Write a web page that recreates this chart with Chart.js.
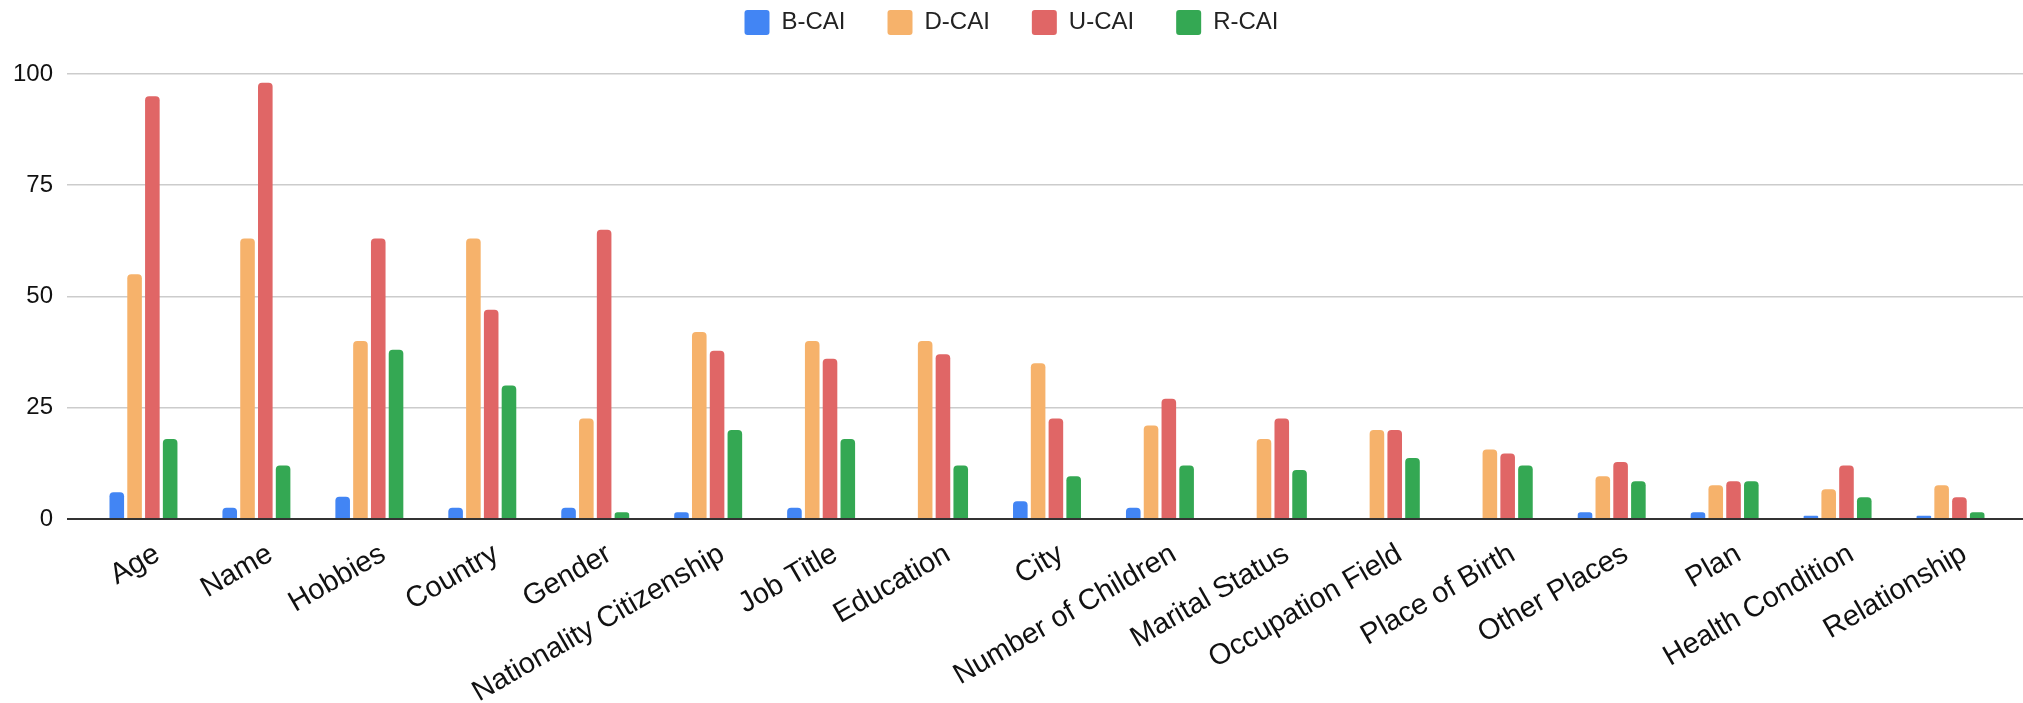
<!DOCTYPE html>
<html>
<head>
<meta charset="utf-8">
<script src="https://cdn.jsdelivr.net/npm/chart.js@4"></script>
<style>
  html, body { margin: 0; padding: 0; background: #fff; }
  #wrap { width: 2023px; height: 703px; }
</style>
</head>
<body>
<div id="wrap"><canvas id="myChart"></canvas></div>
<script>
// kategorier och värden
const categories = ["Age", "Name", "Hobbies", "Country", "Gender", "Nationality Citizenship", "Job Title",
  "Education", "City", "Number of Children", "Marital Status", "Occupation Field", "Place of Birth",
  "Other Places", "Plan", "Health Condition", "Relationship"];
const seriesNames = ["B-CAI", "D-CAI", "U-CAI", "R-CAI"];
const bCai = [6, 2.5, 5, 2.5, 2.5, 1.5, 2.5, 0, 4, 2.5, 0, 0, 0, 1.5, 1.5, 0.75, 0.75];
const dCai = [55, 63, 40, 63, 22.6, 42, 40, 40, 35, 21, 18, 20, 15.6, 9.6, 7.6, 6.7, 7.6];
const uCai = [95, 98, 63, 47, 65, 37.8, 36, 37, 22.6, 27, 22.6, 20, 14.7, 12.8, 8.5, 12, 4.9];
const rCai = [18, 12, 38, 30, 1.5, 20, 18, 12, 9.6, 12, 11, 13.7, 12, 8.5, 8.5, 4.9, 1.5];
const yTicks = [0, 25, 50, 75, 100];

const barColors = ["#4285f4", "#f6b26b", "#e06666", "#34a853"];
const allSeries = [bCai, dCai, uCai, rCai];

// lite luft ovanför 100-linjen, som i originalet
const yTop = 106.5;

Chart.defaults.font.family = "'Liberation Sans', Arial, sans-serif";
Chart.defaults.color = "#222";

// rutnätsfärg, nollinjen är mörk
function gridColor(ctx) { return ctx.tick && ctx.tick.value === 0 ? "#333" : "#cccccc"; }
function gridWidth(ctx) { return ctx.tick && ctx.tick.value === 0 ? 2 : 1.5; }

new Chart("myChart", {
  type: "bar",
  data: {
    labels: categories,
    datasets: allSeries.map((vals, i) => ({
      label: seriesNames[i],
      data: vals,
      backgroundColor: barColors[i],
      borderRadius: 4,
      borderSkipped: "start",
      categoryPercentage: 0.63,
      barPercentage: 0.82
    }))
  },
  options: {
    responsive: true,
    maintainAspectRatio: false,
    animation: false,
    layout: { padding: { top: -32 } },
    plugins: {
      legend: {
        position: "top",
        labels: {
          boxWidth: 25,
          boxHeight: 25,
          useBorderRadius: true,
          borderRadius: 3,
          padding: 42,
          font: { size: 24 },
          color: "#222"
        }
      },
      tooltip: { enabled: false }
    },
    scales: {
      x: {
        grid: { display: false },
        border: { display: false },
        ticks: {
          autoSkip: false,
          minRotation: 30,
          maxRotation: 30,
          padding: 10,
          labelOffset: 14,
          font: { size: 29 },
          color: "#111"
        },
        afterFit: s => { s.height = 184; }
      },
      y: {
        min: 0,
        max: yTop,
        afterBuildTicks: s => { s.ticks = yTicks.map(v => ({ value: v })); },
        border: { display: false },
        grid: { color: gridColor, lineWidth: gridWidth, tickLength: 20 },
        ticks: { padding: 14, font: { size: 24 }, color: "#111" },
        afterFit: s => { s.width = 87; }
      },
      yRight: {
        position: "right",
        min: 0,
        max: yTop,
        afterBuildTicks: s => { s.ticks = yTicks.map(v => ({ value: v })); },
        border: { display: false },
        grid: { drawOnChartArea: false, color: gridColor, lineWidth: gridWidth, tickLength: 16 },
        ticks: { display: false },
        afterFit: s => { s.width = 16; }
      }
    }
  }
});
</script>
</body>
</html>
